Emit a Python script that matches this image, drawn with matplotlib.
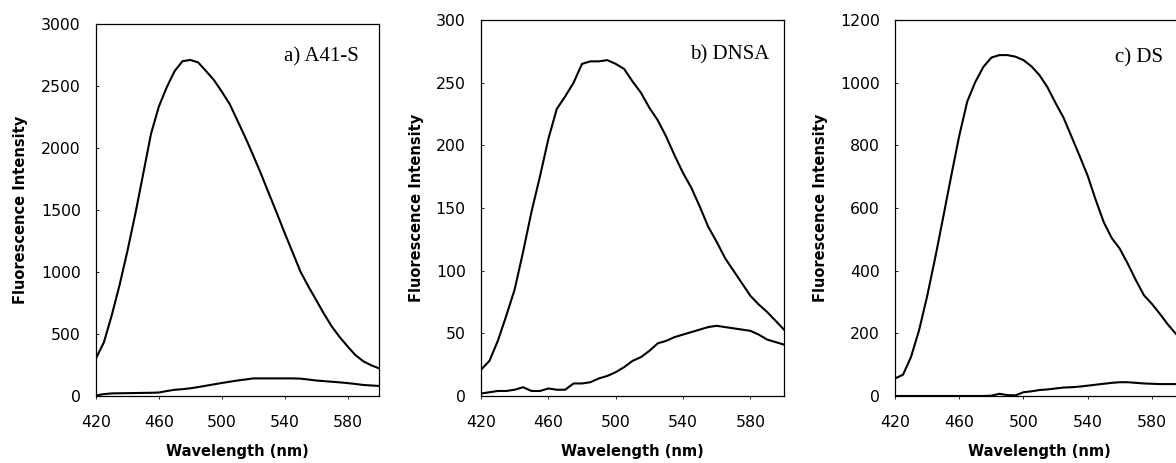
#fluorescence spectra, three panels
import numpy as np
from matplotlib import pyplot as plt

# wavelength grid (nm), every 5 nm
wavelength = np.arange(420, 605, 5)

# a) A41-S
a41s_high = [304, 432, 650, 895, 1170, 1468, 1790, 2115, 2335, 2490,
             2620, 2700, 2710, 2690, 2620, 2548, 2455, 2355, 2220, 2085,
             1940, 1790, 1632, 1475, 1315, 1160, 1005, 885, 775, 663,
             560, 475, 400, 330, 280, 248, 223]
a41s_low = [5, 15, 21, 22, 23, 24, 25, 26, 28, 40,
            50, 55, 62, 72, 83, 94, 105, 115, 125, 133,
            142, 142, 142, 142, 142, 142, 140, 133, 125, 120,
            115, 110, 104, 97, 89, 85, 81]

# b) DNSA
dnsa_high = [21, 28, 44, 64, 85, 115, 147, 175, 205, 229,
             239, 250, 265, 267, 267, 268, 265, 261, 251, 242,
             230, 220, 207, 192, 178, 166, 151, 135, 123, 110,
             100, 90, 80, 73, 67, 60, 53]
dnsa_low = [2, 3, 4, 4, 5, 7, 4, 4, 6, 5,
            5, 10, 10, 11, 14, 16, 19, 23, 28, 31,
            36, 42, 44, 47, 49, 51, 53, 55, 56, 55,
            54, 53, 52, 49, 45, 43, 41]

# c) DS
ds_high = [56, 68, 125, 210, 318, 440, 570, 702, 830, 940,
           1002, 1050, 1080, 1088, 1088, 1083, 1072, 1052, 1024, 985,
           935, 888, 827, 766, 703, 626, 555, 504, 470, 422,
           370, 322, 294, 262, 228, 198, 175]
ds_low = [0, 0, 0, 0, 0, 0, 0, 0, 0, 0,
          0, 0, 1, 7, 3, 2, 12, 15, 19, 21,
          24, 27, 28, 30, 33, 36, 39, 42, 44, 44,
          42, 40, 39, 38, 38, 38, 38]

panel_names = ['a) A41-S', 'b) DNSA', 'c) DS']
y_tops = [3000, 300, 1200]
y_steps = [500, 50, 200]
x_ticks = [420, 460, 500, 540, 580]

plt.rcParams['font.family'] = 'DejaVu Sans'

W, H = 1176, 463
fig = plt.figure(figsize=(W / 100, H / 100), dpi=100)

# axes boxes in pixels: left, right, top, bottom (panel c runs off the right edge)
boxes = [(96, 379, 24, 396), (481, 784, 20, 396), (895, 1184, 20, 396)]
name_pos = [(0.930, 0.899), (0.951, 0.894), (0.927, 0.888)]
ylab_x = [-0.241, -0.1875, -0.232]

series = [(a41s_high, a41s_low), (dnsa_high, dnsa_low), (ds_high, ds_low)]

for i in range(3):
    l, r, t, b = boxes[i]
    ax = fig.add_axes([l / W, (H - b) / H, (r - l) / W, (b - t) / H])
    hi, lo = series[i]
    ax.plot(wavelength, hi, color='black', lw=1.5)
    ax.plot(wavelength, lo, color='black', lw=1.5)
    ax.set_xlim(420, 600)
    ax.set_ylim(0, y_tops[i])
    ax.set_xticks(x_ticks)
    ax.set_yticks(np.arange(0, y_tops[i] + 1, y_steps[i]))
    ax.tick_params(axis='y', direction='in', length=2, width=0.6, pad=11, labelsize=11.3)
    ax.tick_params(axis='x', length=2, width=0.6, pad=12, labelsize=11.3)
    for s in ax.spines.values():
        s.set_linewidth(0.9)
        s.set_color('black')
    ax.set_ylabel('Fluorescence Intensity', fontsize=10.5, fontweight='bold')
    ax.set_xlabel('Wavelength (nm)', fontsize=10.5, fontweight='bold')
    ax.yaxis.set_label_coords(ylab_x[i], 0.5)
    ax.xaxis.set_label_coords(0.5, -0.128)
    ax.text(name_pos[i][0], name_pos[i][1], panel_names[i], transform=ax.transAxes,
            ha='right', va='baseline', fontsize=15, family='Liberation Serif')

fig.savefig('out.png', dpi=100)
